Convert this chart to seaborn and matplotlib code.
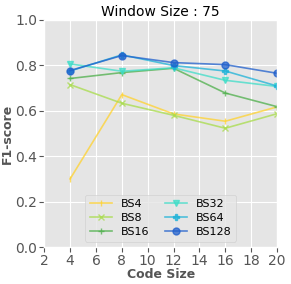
import matplotlib
matplotlib.use("Agg")
import matplotlib.pyplot as plt
import seaborn as sns
import pandas as pd

code_sizes = [4, 8, 12, 16, 20]
series_names = ["BS4", "BS8", "BS16", "BS32", "BS64", "BS128"]
bs4 = [0.300, 0.671, 0.586, 0.554, 0.617]
bs8 = [0.715, 0.633, 0.580, 0.523, 0.587]
bs16 = [0.742, 0.768, 0.787, 0.678, 0.618]
bs32 = [0.806, 0.774, 0.789, 0.734, 0.707]
bs64 = [0.775, 0.846, 0.799, 0.775, 0.709]
bs128 = [0.777, 0.843, 0.812, 0.803, 0.765]
x_ticks = [2, 4, 6, 8, 10, 12, 14, 16, 18, 20]
y_ticks = [0.0, 0.2, 0.4, 0.6, 0.8, 1.0]

values = [bs4, bs8, bs16, bs32, bs64, bs128]

plt.style.use("ggplot")
plt.rcParams["font.family"] = ["DejaVu Sans"]

colors = ["#FFD22E", "#A8DC4A", "#4DAF4A", "#3EDDC8", "#1CB2D8", "#1F5FCC"]
markers = ["|", "x", "+", "v", "P", "o"]

fig, ax = plt.subplots(figsize=(2.91, 2.84), dpi=100)
for name, vals, c, m in zip(series_names, values, colors, markers):
    d = pd.DataFrame({"Code Size": code_sizes, "F1-score": vals})
    sns.lineplot(data=d, x="Code Size", y="F1-score", color=c, marker=m,
                 alpha=0.75, linewidth=1.2, markersize=5, markeredgewidth=1,
                 markeredgecolor=c, label=name, ax=ax)

ax.set_xlim(2, 20)
ax.set_ylim(0, 1.0)
ax.set_xticks(x_ticks)
ax.set_yticks(y_ticks)
ax.tick_params(labelsize=10, colors="#555555", labelcolor="#555555", pad=1.5)
ax.set_title("Window Size : 75", fontsize=10, color="black", pad=3)
ax.set_xlabel("Code Size", fontsize=9, fontweight="bold", color="#555555", labelpad=0)
ax.set_ylabel("F1-score", fontsize=9, fontweight="bold", color="#555555", labelpad=1)

leg = ax.legend(ncol=2, loc="lower center", bbox_to_anchor=(0.5, 0.0),
                fontsize=8, frameon=True, handlelength=2.0, columnspacing=1.4,
                labelspacing=0.35, handletextpad=0.8)
leg.get_frame().set_facecolor("#E5E5E5")
leg.get_frame().set_edgecolor("#CCCCCC")

fig.subplots_adjust(left=0.152, right=0.952, bottom=0.13, top=0.93)
fig.savefig("out.png", dpi=100)
